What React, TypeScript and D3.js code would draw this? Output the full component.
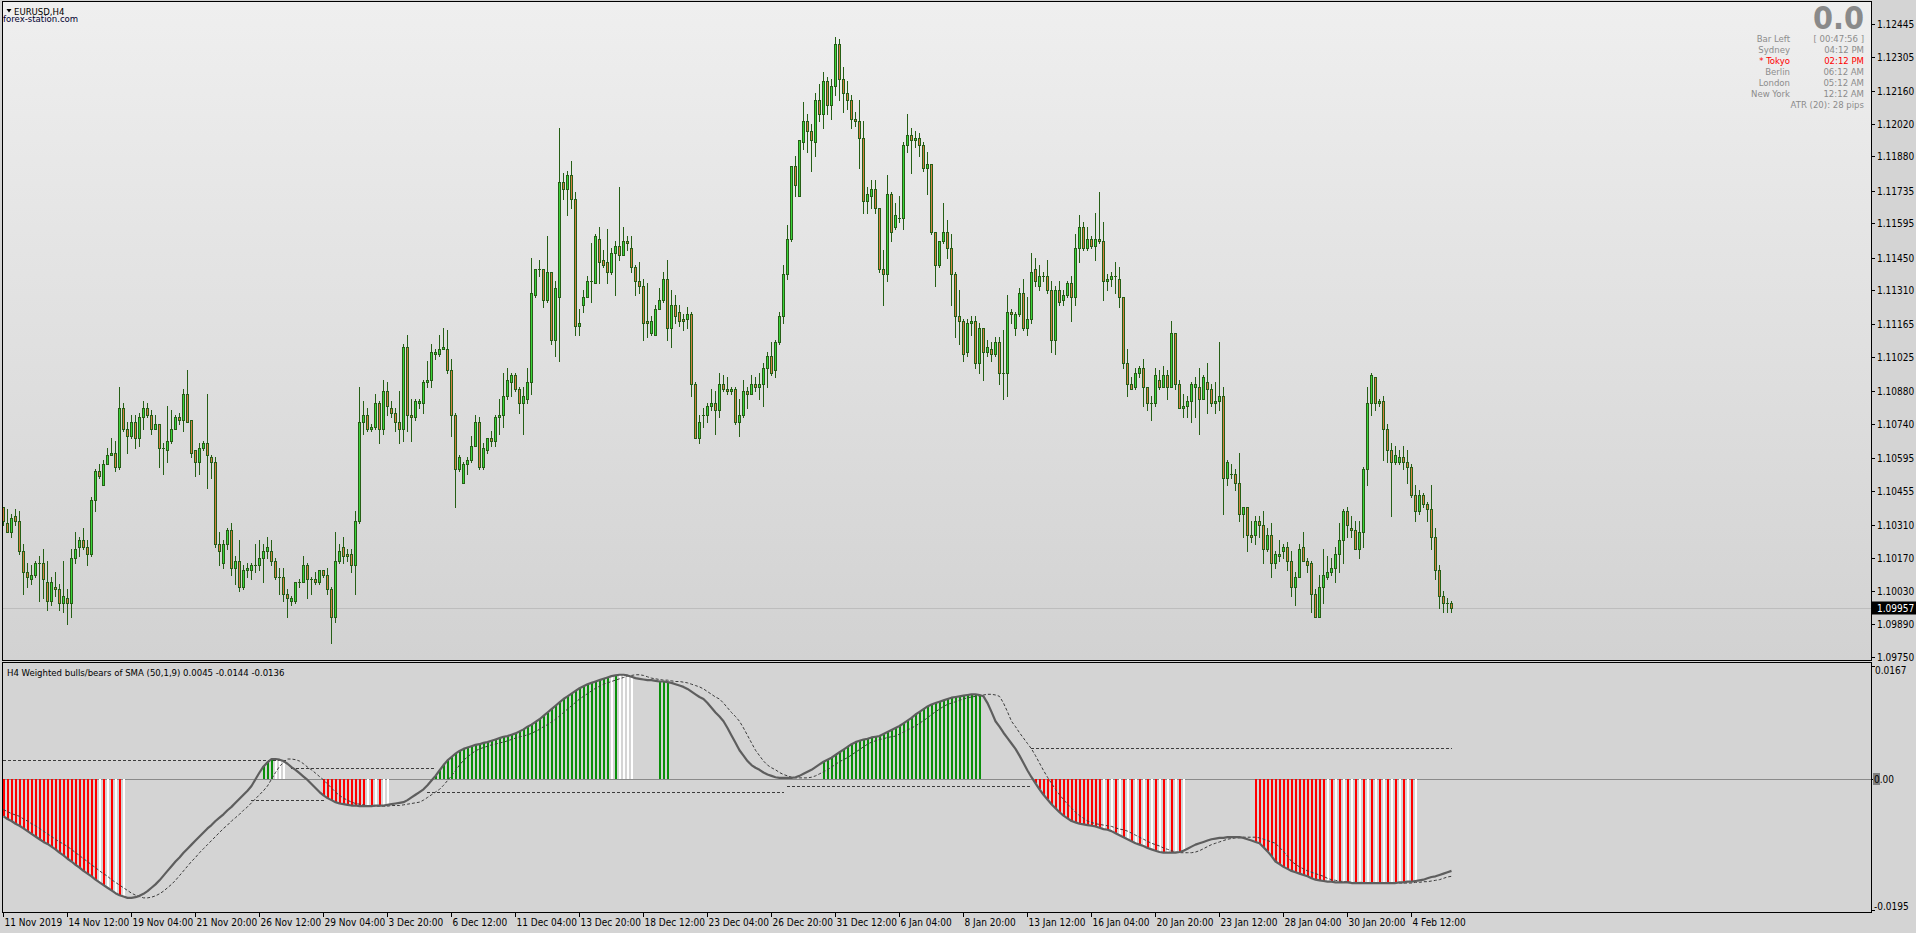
import React from "react";
import * as d3 from "d3";

// ---------- DATA ----------
// EURUSD H4 candles [open, high, low, close], oldest first (11 Nov 2019 20:00 -> 6 Feb 2020 00:00)
const ohlc: [number, number, number, number][] = [
[1.1039,1.1039,1.1031,1.1033],[1.1032,1.1038,1.1028,1.1028],[1.1028,1.1036,1.1026,1.1034],[1.1035,1.1038,1.1031,1.1033],
[1.1033,1.1037,1.1019,1.1020],[1.1020,1.1023,1.1002,1.1011],[1.1011,1.1015,1.1005,1.1009],[1.1008,1.1014,1.1006,1.1010],
[1.1010,1.1016,1.1009,1.1015],[1.1015,1.1018,1.0999,1.1015],[1.1015,1.1021,1.1000,1.1008],[1.1007,1.1016,1.0995,1.0999],
[1.0999,1.1009,1.0997,1.1007],[1.1005,1.1011,1.1001,1.1004],[1.1004,1.1006,1.0995,1.0998],[1.0998,1.1016,1.0994,1.1001],
[1.1000,1.1004,1.0989,1.0998],[1.0998,1.1021,1.0992,1.1017],[1.1017,1.1028,1.1015,1.1021],[1.1022,1.1026,1.1018,1.1025],
[1.1025,1.1030,1.1021,1.1022],[1.1022,1.1025,1.1014,1.1019],[1.1019,1.1043,1.1018,1.1042],[1.1042,1.1055,1.1037,1.1054],
[1.1054,1.1057,1.1051,1.1052],[1.1048,1.1059,1.1048,1.1057],[1.1057,1.1064,1.1057,1.1061],[1.1061,1.1068,1.1061,1.1062],
[1.1062,1.1067,1.1054,1.1056],[1.1056,1.1090,1.1055,1.1081],[1.1081,1.1083,1.1071,1.1072],[1.1072,1.1075,1.1062,1.1069],
[1.1069,1.1078,1.1068,1.1075],[1.1075,1.1078,1.1064,1.1068],[1.1068,1.1079,1.1065,1.1077],[1.1077,1.1084,1.1072,1.1081],
[1.1081,1.1083,1.1077,1.1078],[1.1078,1.1080,1.1070,1.1072],[1.1072,1.1078,1.1072,1.1074],[1.1074,1.1074,1.1056,1.1064],
[1.1064,1.1066,1.1053,1.1064],[1.1063,1.1082,1.1058,1.1067],[1.1067,1.1080,1.1066,1.1072],[1.1072,1.1078,1.1072,1.1077],
[1.1077,1.1079,1.1074,1.1076],[1.1076,1.1089,1.1071,1.1087],[1.1087,1.1097,1.1075,1.1075],[1.1076,1.1076,1.1060,1.1062],
[1.1063,1.1063,1.1052,1.1058],[1.1058,1.1066,1.1053,1.1064],[1.1064,1.1067,1.1063,1.1066],[1.1066,1.1087,1.1047,1.1061],
[1.1060,1.1061,1.1051,1.1058],[1.1058,1.1060,1.1022,1.1023],[1.1023,1.1028,1.1014,1.1020],[1.1015,1.1025,1.1013,1.1023],
[1.1023,1.1030,1.1021,1.1029],[1.1029,1.1032,1.1010,1.1013],[1.1013,1.1018,1.1006,1.1016],[1.1016,1.1025,1.1003,1.1005],
[1.1005,1.1014,1.1004,1.1012],[1.1012,1.1015,1.1009,1.1013],[1.1012,1.1015,1.1008,1.1014],[1.1014,1.1023,1.1011,1.1014],
[1.1014,1.1025,1.1012,1.1017],[1.1017,1.1023,1.1007,1.1020],[1.1020,1.1026,1.1017,1.1022],[1.1020,1.1025,1.1014,1.1016],
[1.1016,1.1017,1.1008,1.1009],[1.1009,1.1013,1.1002,1.1009],[1.1009,1.1013,1.0999,1.1002],[1.1002,1.1004,1.0992,1.1000],
[1.0999,1.1001,1.0997,1.1000],[1.0999,1.1007,1.0998,1.1007],[1.1007,1.1008,1.1005,1.1007],[1.1007,1.1018,1.1007,1.1014],
[1.1014,1.1015,1.1000,1.1008],[1.1008,1.1009,1.1002,1.1008],[1.1008,1.1011,1.1006,1.1007],[1.1007,1.1012,1.1006,1.1012],
[1.1012,1.1012,1.1009,1.1010],[1.1010,1.1013,1.1002,1.1004],[1.1004,1.1005,1.0981,1.0992],[1.0992,1.1028,1.0990,1.1016],
[1.1016,1.1023,1.1015,1.1020],[1.1022,1.1026,1.1015,1.1018],[1.1019,1.1021,1.1016,1.1018],[1.1019,1.1021,1.1011,1.1014],
[1.1014,1.1037,1.1002,1.1033],[1.1033,1.1090,1.1032,1.1075],[1.1075,1.1084,1.1070,1.1078],[1.1078,1.1081,1.1071,1.1072],
[1.1072,1.1074,1.1071,1.1073],[1.1073,1.1087,1.1072,1.1083],[1.1083,1.1084,1.1066,1.1072],[1.1072,1.1093,1.1070,1.1088],
[1.1088,1.1092,1.1078,1.1082],[1.1081,1.1084,1.1077,1.1079],[1.1079,1.1081,1.1071,1.1075],[1.1075,1.1088,1.1066,1.1072],
[1.1072,1.1108,1.1067,1.1107],[1.1107,1.1112,1.1071,1.1078],[1.1078,1.1085,1.1067,1.1077],[1.1077,1.1085,1.1076,1.1084],
[1.1083,1.1085,1.1081,1.1084],[1.1083,1.1093,1.1079,1.1092],[1.1092,1.1101,1.1090,1.1093],[1.1093,1.1108,1.1090,1.1105],
[1.1104,1.1106,1.1102,1.1105],[1.1104,1.1112,1.1103,1.1106],[1.1106,1.1115,1.1106,1.1107],[1.1106,1.1114,1.1096,1.1097],
[1.1097,1.1102,1.1069,1.1078],[1.1078,1.1079,1.1039,1.1055],[1.1055,1.1061,1.1054,1.1060],[1.1049,1.1058,1.1049,1.1057],
[1.1057,1.1060,1.1053,1.1059],[1.1059,1.1069,1.1058,1.1065],[1.1065,1.1078,1.1065,1.1075],[1.1075,1.1077,1.1055,1.1056],
[1.1056,1.1066,1.1055,1.1064],[1.1063,1.1068,1.1062,1.1068],[1.1068,1.1071,1.1065,1.1067],[1.1067,1.1078,1.1065,1.1077],
[1.1077,1.1085,1.1070,1.1078],[1.1078,1.1096,1.1073,1.1086],[1.1086,1.1098,1.1085,1.1093],[1.1092,1.1096,1.1086,1.1095],
[1.1095,1.1096,1.1088,1.1089],[1.1089,1.1090,1.1079,1.1083],[1.1083,1.1090,1.1070,1.1086],[1.1085,1.1098,1.1083,1.1092],
[1.1092,1.1145,1.1087,1.1130],[1.1129,1.1140,1.1128,1.1140],[1.1140,1.1144,1.1137,1.1140],[1.1140,1.1140,1.1124,1.1127],
[1.1127,1.1154,1.1126,1.1139],[1.1139,1.1139,1.1108,1.1110],[1.1110,1.1135,1.1103,1.1132],[1.1128,1.1200,1.1101,1.1177],
[1.1177,1.1181,1.1170,1.1174],[1.1174,1.1182,1.1163,1.1180],[1.1180,1.1186,1.1166,1.1170],[1.1170,1.1173,1.1112,1.1116],
[1.1116,1.1123,1.1112,1.1117],[1.1125,1.1131,1.1122,1.1128],[1.1128,1.1137,1.1128,1.1135],[1.1135,1.1151,1.1126,1.1135],
[1.1134,1.1155,1.1134,1.1154],[1.1153,1.1158,1.1134,1.1143],[1.1144,1.1148,1.1141,1.1142],[1.1143,1.1157,1.1134,1.1139],
[1.1139,1.1149,1.1138,1.1147],[1.1147,1.1152,1.1129,1.1150],[1.1150,1.1175,1.1144,1.1146],[1.1146,1.1158,1.1146,1.1152],
[1.1152,1.1154,1.1148,1.1151],[1.1149,1.1154,1.1139,1.1141],[1.1141,1.1142,1.1129,1.1135],[1.1135,1.1143,1.1130,1.1133],
[1.1133,1.1136,1.1110,1.1117],[1.1118,1.1134,1.1111,1.1117],[1.1113,1.1120,1.1112,1.1118],[1.1112,1.1125,1.1112,1.1123],
[1.1123,1.1132,1.1123,1.1127],[1.1127,1.1139,1.1126,1.1136],[1.1136,1.1144,1.1110,1.1115],[1.1115,1.1131,1.1107,1.1125],
[1.1125,1.1129,1.1117,1.1120],[1.1122,1.1125,1.1116,1.1118],[1.1119,1.1121,1.1114,1.1118],[1.1119,1.1124,1.1115,1.1121],
[1.1121,1.1122,1.1086,1.1091],[1.1091,1.1092,1.1068,1.1068],[1.1068,1.1078,1.1066,1.1075],[1.1078,1.1081,1.1073,1.1078],
[1.1078,1.1083,1.1075,1.1082],[1.1082,1.1089,1.1080,1.1083],[1.1083,1.1088,1.1070,1.1080],[1.1080,1.1096,1.1077,1.1091],
[1.1091,1.1095,1.1088,1.1089],[1.1089,1.1094,1.1087,1.1088],[1.1088,1.1090,1.1087,1.1089],[1.1089,1.1090,1.1074,1.1075],
[1.1075,1.1085,1.1069,1.1078],[1.1078,1.1093,1.1077,1.1088],[1.1088,1.1090,1.1081,1.1087],[1.1087,1.1095,1.1087,1.1091],
[1.1091,1.1094,1.1088,1.1090],[1.1090,1.1096,1.1085,1.1091],[1.1091,1.1100,1.1082,1.1098],[1.1098,1.1105,1.1090,1.1103],
[1.1103,1.1109,1.1095,1.1096],[1.1097,1.1110,1.1094,1.1109],[1.1109,1.1122,1.1108,1.1120],[1.1120,1.1142,1.1117,1.1138],
[1.1138,1.1159,1.1136,1.1153],[1.1153,1.1184,1.1152,1.1184],[1.1184,1.1188,1.1171,1.1176],[1.1171,1.1195,1.1171,1.1195],
[1.1194,1.1211,1.1191,1.1203],[1.1203,1.1206,1.1190,1.1199],[1.1199,1.1202,1.1182,1.1195],[1.1194,1.1215,1.1188,1.1212],
[1.1212,1.1219,1.1203,1.1206],[1.1206,1.1224,1.1200,1.1220],[1.1220,1.1222,1.1206,1.1210],[1.1210,1.1221,1.1204,1.1218],
[1.1218,1.1239,1.1214,1.1236],[1.1236,1.1238,1.1212,1.1221],[1.1221,1.1226,1.1207,1.1215],[1.1215,1.1220,1.1208,1.1212],
[1.1212,1.1214,1.1200,1.1204],[1.1204,1.1207,1.1201,1.1203],[1.1203,1.1212,1.1183,1.1196],[1.1196,1.1203,1.1164,1.1169],
[1.1169,1.1175,1.1164,1.1172],[1.1171,1.1178,1.1166,1.1174],[1.1174,1.1178,1.1164,1.1166],[1.1166,1.1166,1.1139,1.1140],
[1.1140,1.1148,1.1125,1.1138],[1.1138,1.1180,1.1135,1.1172],[1.1172,1.1173,1.1152,1.1156],[1.1158,1.1168,1.1157,1.1163],
[1.1162,1.1171,1.1160,1.1162],[1.1162,1.1194,1.1157,1.1193],[1.1193,1.1206,1.1190,1.1197],[1.1197,1.1200,1.1181,1.1195],
[1.1195,1.1199,1.1192,1.1196],[1.1196,1.1198,1.1188,1.1193],[1.1193,1.1194,1.1182,1.1183],[1.1183,1.1190,1.1172,1.1185],
[1.1185,1.1185,1.1155,1.1156],[1.1156,1.1156,1.1133,1.1142],[1.1142,1.1152,1.1141,1.1152],[1.1152,1.1168,1.1151,1.1156],
[1.1156,1.1161,1.1145,1.1149],[1.1149,1.1155,1.1125,1.1138],[1.1138,1.1139,1.1111,1.1120],[1.1120,1.1131,1.1108,1.1118],
[1.1118,1.1119,1.1101,1.1104],[1.1105,1.1119,1.1103,1.1117],[1.1117,1.1120,1.1112,1.1118],[1.1118,1.1120,1.1098,1.1100],
[1.1100,1.1117,1.1096,1.1115],[1.1115,1.1115,1.1093,1.1105],[1.1105,1.1110,1.1103,1.1107],[1.1106,1.1109,1.1101,1.1104],
[1.1104,1.1111,1.1103,1.1109],[1.1109,1.1111,1.1091,1.1096],[1.1096,1.1114,1.1085,1.1096],[1.1096,1.1129,1.1086,1.1122],
[1.1122,1.1123,1.1117,1.1121],[1.1115,1.1122,1.1112,1.1121],[1.1121,1.1132,1.1120,1.1130],[1.1130,1.1136,1.1114,1.1115],
[1.1115,1.1128,1.1112,1.1119],[1.1119,1.1147,1.1117,1.1139],[1.1140,1.1145,1.1133,1.1135],[1.1133,1.1142,1.1131,1.1137],
[1.1137,1.1139,1.1135,1.1137],[1.1137,1.1144,1.1130,1.1131],[1.1131,1.1135,1.1105,1.1110],[1.1110,1.1133,1.1104,1.1131],
[1.1131,1.1135,1.1125,1.1126],[1.1127,1.1131,1.1125,1.1129],[1.1129,1.1135,1.1128,1.1134],[1.1134,1.1137,1.1118,1.1128],
[1.1128,1.1155,1.1125,1.1149],[1.1149,1.1163,1.1143,1.1158],[1.1158,1.1160,1.1148,1.1149],[1.1149,1.1158,1.1148,1.1153],
[1.1153,1.1154,1.1149,1.1150],[1.1150,1.1164,1.1144,1.1153],[1.1153,1.1173,1.1151,1.1152],[1.1152,1.1160,1.1127,1.1135],
[1.1135,1.1138,1.1131,1.1136],[1.1136,1.1139,1.1133,1.1137],[1.1137,1.1143,1.1130,1.1137],[1.1136,1.1141,1.1124,1.1128],
[1.1128,1.1128,1.1098,1.1100],[1.1100,1.1106,1.1086,1.1091],[1.1091,1.1094,1.1089,1.1089],[1.1090,1.1098,1.1089,1.1096],
[1.1096,1.1099,1.1094,1.1098],[1.1098,1.1102,1.1082,1.1090],[1.1090,1.1090,1.1080,1.1083],[1.1083,1.1086,1.1076,1.1083],
[1.1083,1.1098,1.1082,1.1095],[1.1093,1.1097,1.1089,1.1090],[1.1090,1.1099,1.1090,1.1095],[1.1095,1.1097,1.1085,1.1090],
[1.1090,1.1118,1.1090,1.1113],[1.1113,1.1113,1.1089,1.1091],[1.1091,1.1093,1.1081,1.1081],[1.1081,1.1087,1.1077,1.1082],
[1.1082,1.1086,1.1077,1.1084],[1.1084,1.1092,1.1075,1.1091],[1.1090,1.1094,1.1077,1.1091],[1.1090,1.1098,1.1070,1.1085],
[1.1085,1.1095,1.1085,1.1094],[1.1092,1.1100,1.1079,1.1089],[1.1089,1.1091,1.1082,1.1083],[1.1083,1.1092,1.1079,1.1084],
[1.1084,1.1109,1.1080,1.1086],[1.1086,1.1090,1.1036,1.1051],[1.1051,1.1059,1.1048,1.1058],[1.1053,1.1057,1.1051,1.1053],
[1.1053,1.1055,1.1046,1.1049],[1.1049,1.1062,1.1033,1.1036],[1.1036,1.1039,1.1026,1.1039],[1.1039,1.1039,1.1020,1.1027],
[1.1027,1.1033,1.1024,1.1026],[1.1027,1.1035,1.1023,1.1033],[1.1033,1.1035,1.1026,1.1031],[1.1031,1.1037,1.1015,1.1021],
[1.1021,1.1030,1.1020,1.1027],[1.1027,1.1032,1.1009,1.1015],[1.1015,1.1020,1.1013,1.1019],[1.1018,1.1025,1.1016,1.1019],
[1.1020,1.1023,1.1017,1.1022],[1.1022,1.1024,1.1012,1.1016],[1.1016,1.1020,1.1001,1.1005],[1.1005,1.1011,1.0997,1.1009],
[1.1009,1.1023,1.1009,1.1021],[1.1022,1.1028,1.1016,1.1016],[1.1016,1.1017,1.1011,1.1014],[1.1015,1.1016,1.0994,1.1002],
[1.1002,1.1004,1.0992,1.0992],[1.0992,1.1010,1.0992,1.1005],[1.1005,1.1021,1.0998,1.1010],[1.1009,1.1018,1.1008,1.1011],
[1.1011,1.1017,1.1010,1.1013],[1.1013,1.1022,1.1007,1.1019],[1.1019,1.1032,1.1011,1.1025],[1.1025,1.1038,1.1015,1.1037],
[1.1037,1.1039,1.1026,1.1031],[1.1030,1.1035,1.1026,1.1029],[1.1029,1.1033,1.1021,1.1021],[1.1021,1.1033,1.1017,1.1028],
[1.1028,1.1056,1.1022,1.1055],[1.1055,1.1090,1.1048,1.1083],[1.1083,1.1096,1.1078,1.1095],[1.1094,1.1094,1.1080,1.1083],
[1.1083,1.1085,1.1082,1.1084],[1.1084,1.1086,1.1059,1.1072],[1.1072,1.1074,1.1058,1.1063],[1.1063,1.1066,1.1035,1.1058],
[1.1058,1.1065,1.1057,1.1061],[1.1058,1.1063,1.1057,1.1060],[1.1060,1.1065,1.1055,1.1058],[1.1058,1.1063,1.1049,1.1056],
[1.1056,1.1057,1.1043,1.1044],[1.1044,1.1048,1.1033,1.1037],[1.1037,1.1046,1.1036,1.1044],[1.1044,1.1045,1.1039,1.1040],
[1.1040,1.1041,1.1033,1.1038],[1.1038,1.1048,1.1021,1.1026],[1.1026,1.1030,1.1008,1.1012],[1.1012,1.1014,1.0996,1.1001],
[1.1001,1.1003,1.0994,1.0998],[1.0998,1.1000,1.0994,1.0998],[1.0998,1.0999,1.0994,1.09957],
];

// Indicator: weighted bulls/bears line (thick), signal (dashed)
const bullsBears = [
-0.0056,-0.0060,-0.0063,-0.0067,-0.0070,-0.0074,-0.0078,-0.0082,-0.0086,-0.0090,-0.0094,-0.0097,
-0.0101,-0.0105,-0.0110,-0.0114,-0.0119,-0.0123,-0.0128,-0.0132,-0.0137,-0.0141,-0.0145,-0.0150,
-0.0154,-0.0158,-0.0162,-0.0166,-0.0170,-0.0173,-0.0175,-0.0177,-0.0177,-0.0176,-0.0174,-0.0171,-0.0167,-0.0162,-0.0157,
-0.0151,-0.0144,-0.0137,-0.0130,-0.0123,-0.0117,-0.0110,-0.0104,-0.0098,-0.0092,-0.0086,-0.0080,
-0.0074,-0.0069,-0.0063,-0.0058,-0.0053,-0.0047,-0.0042,-0.0036,-0.0030,-0.0024,-0.0018,
-0.0011,-0.0001,0.0009,0.0018,0.0024,0.0029,0.0029,0.0028,0.0026,0.0022,0.0017,
0.0013,0.0008,0.0003,-0.0002,-0.0008,-0.0014,-0.0020,-0.0025,-0.0029,-0.0032,
-0.0035,-0.0037,-0.0038,-0.0039,-0.0040,-0.0040,-0.0041,-0.0041,-0.0041,-0.0041,-0.0040,
-0.0040,-0.0040,-0.0039,-0.0038,-0.0037,-0.0036,-0.0035,-0.0032,-0.0028,-0.0024,-0.0020,-0.0016,-0.0010,-0.0003,
0.0004,0.0012,0.0020,0.0027,0.0032,0.0037,0.0041,0.0044,0.0046,0.0048,0.0050,0.0051,0.0053,
0.0054,0.0056,0.0058,0.0060,0.0062,0.0063,0.0065,0.0067,0.0070,0.0073,0.0077,0.0080,0.0084,
0.0088,0.0093,0.0098,0.0103,0.0108,0.0113,0.0118,0.0122,0.0126,0.0130,0.0134,0.0137,
0.0140,0.0142,0.0144,0.0146,0.0148,0.0150,0.0152,0.0153,0.0154,0.0154,0.0153,0.0151,
0.0149,0.0148,0.0147,0.0146,0.0146,0.0145,0.0144,0.0144,0.0143,0.0142,0.0140,0.0138,
0.0136,0.0133,0.0129,0.0125,0.0121,0.0118,0.0112,0.0105,0.0098,0.0092,0.0085,0.0075,0.0064,0.0053,
0.0042,0.0034,0.0026,0.0020,0.0016,0.0013,0.0009,0.0006,0.0004,0.0002,0.0001,0.0001,0.0001,0.0001,
0.0002,0.0004,0.0007,0.0010,0.0013,0.0017,0.0021,0.0025,0.0028,0.0031,0.0035,0.0039,0.0043,0.0047,0.0051,
0.0054,0.0056,0.0058,0.0059,0.0061,0.0062,0.0063,0.0066,0.0069,0.0072,0.0075,0.0078,
0.0082,0.0086,0.0090,0.0095,0.0099,0.0103,0.0107,0.0110,0.0112,0.0114,0.0116,0.0118,0.0120,
0.0121,0.0122,0.0123,0.0124,0.0125,0.0125,0.0124,0.0122,0.0112,0.0099,
0.0085,0.0077,0.0068,0.0060,0.0052,0.0044,0.0034,0.0023,0.0012,
0.0002,-0.0007,-0.0016,-0.0024,-0.0031,-0.0038,-0.0044,-0.0050,-0.0055,-0.0059,
-0.0063,-0.0065,-0.0067,-0.0068,-0.0069,-0.0070,-0.0071,-0.0073,-0.0075,-0.0076,
-0.0078,-0.0081,-0.0084,-0.0087,-0.0090,-0.0093,-0.0096,-0.0098,-0.0100,-0.0103,-0.0105,-0.0107,
-0.0109,-0.0110,-0.0110,-0.0110,-0.0110,-0.0109,-0.0107,-0.0104,-0.0101,-0.0098,
-0.0096,-0.0094,-0.0092,-0.0090,-0.0089,-0.0088,-0.0088,-0.0087,-0.0087,-0.0087,
-0.0087,-0.0088,-0.0090,-0.0092,-0.0094,-0.0096,-0.0102,-0.0108,-0.0115,
-0.0123,-0.0127,-0.0131,-0.0134,-0.0137,-0.0139,-0.0141,-0.0143,-0.0145,-0.0148,-0.0150,
-0.0151,-0.0152,-0.0153,-0.0153,-0.0154,-0.0154,-0.0154,-0.0154,-0.0155,-0.0155,-0.0155,-0.0155,
-0.0155,-0.0155,-0.0155,-0.0155,-0.0155,-0.0155,-0.0155,-0.0155,-0.0154,-0.0154,-0.0153,-0.0153,
-0.0152,-0.0151,-0.0150,-0.0148,-0.0146,-0.0145,-0.0143,-0.0141,-0.0139,-0.0137,
];

const signal = [
-0.0046,-0.0049,-0.0052,-0.0054,
-0.0056,-0.0060,-0.0063,-0.0067,-0.0070,-0.0074,-0.0078,-0.0082,-0.0086,-0.0090,-0.0094,-0.0097,
-0.0101,-0.0105,-0.0110,-0.0114,-0.0119,-0.0123,-0.0128,-0.0132,-0.0137,-0.0141,-0.0145,-0.0150,
-0.0154,-0.0158,-0.0162,-0.0166,-0.0170,-0.0173,-0.0175,-0.0177,-0.0177,-0.0176,-0.0174,-0.0171,-0.0167,-0.0162,-0.0157,
-0.0151,-0.0144,-0.0137,-0.0130,-0.0123,-0.0117,-0.0110,-0.0104,-0.0098,-0.0092,-0.0086,-0.0080,
-0.0074,-0.0069,-0.0063,-0.0058,-0.0053,-0.0047,-0.0042,-0.0036,-0.0030,-0.0024,-0.0018,
-0.0011,-0.0001,0.0009,0.0018,0.0024,0.0029,0.0029,0.0028,0.0026,0.0022,0.0017,
0.0013,0.0008,0.0003,-0.0002,-0.0008,-0.0014,-0.0020,-0.0025,-0.0029,-0.0032,
-0.0035,-0.0037,-0.0038,-0.0039,-0.0040,-0.0040,-0.0041,-0.0041,-0.0041,-0.0041,-0.0040,
-0.0040,-0.0040,-0.0039,-0.0038,-0.0037,-0.0036,-0.0035,-0.0032,-0.0028,-0.0024,-0.0020,-0.0016,-0.0010,-0.0003,
0.0004,0.0012,0.0020,0.0027,0.0032,0.0037,0.0041,0.0044,0.0046,0.0048,0.0050,0.0051,0.0053,
0.0054,0.0056,0.0058,0.0060,0.0062,0.0063,0.0065,0.0067,0.0070,0.0073,0.0077,0.0080,0.0084,
0.0088,0.0093,0.0098,0.0103,0.0108,0.0113,0.0118,0.0122,0.0126,0.0130,0.0134,0.0137,
0.0140,0.0142,0.0144,0.0146,0.0148,0.0150,0.0152,0.0153,0.0154,0.0154,0.0153,0.0151,
0.0149,0.0148,0.0147,0.0146,0.0146,0.0145,0.0144,0.0144,0.0143,0.0142,0.0140,0.0138,
0.0136,0.0133,0.0129,0.0125,0.0121,0.0118,0.0112,0.0105,0.0098,0.0092,0.0085,0.0075,0.0064,0.0053,
0.0042,0.0034,0.0026,0.0020,0.0016,0.0013,0.0009,0.0006,0.0004,0.0002,0.0001,0.0001,0.0001,0.0001,
0.0002,0.0004,0.0007,0.0010,0.0013,0.0017,0.0021,0.0025,0.0028,0.0031,0.0035,0.0039,0.0043,0.0047,0.0051,
0.0054,0.0056,0.0058,0.0059,0.0061,0.0062,0.0063,0.0066,0.0069,0.0072,0.0075,0.0078,
0.0082,0.0086,0.0090,0.0095,0.0099,0.0103,0.0107,0.0110,0.0112,0.0114,0.0116,0.0118,0.0120,
0.0121,0.0122,0.0123,0.0124,0.0125,0.0125,0.0124,0.0122,0.0112,0.0099,
0.0085,0.0077,0.0068,0.0060,0.0052,0.0044,0.0034,0.0023,0.0012,
0.0002,-0.0007,-0.0016,-0.0024,-0.0031,-0.0038,-0.0044,-0.0050,-0.0055,-0.0059,
-0.0063,-0.0065,-0.0067,-0.0068,-0.0069,-0.0070,-0.0071,-0.0073,-0.0075,-0.0076,
-0.0078,-0.0081,-0.0084,-0.0087,-0.0090,-0.0093,-0.0096,-0.0098,-0.0100,-0.0103,-0.0105,-0.0107,
-0.0109,-0.0110,-0.0110,-0.0110,-0.0110,-0.0109,-0.0107,-0.0104,-0.0101,-0.0098,
-0.0096,-0.0094,-0.0092,-0.0090,-0.0089,-0.0088,-0.0088,-0.0087,-0.0087,-0.0087,
-0.0087,-0.0088,-0.0090,-0.0092,-0.0094,-0.0096,-0.0102,-0.0108,-0.0115,
-0.0123,-0.0127,-0.0131,-0.0134,-0.0137,-0.0139,-0.0141,-0.0143,-0.0145,-0.0148,-0.0150,
-0.0151,-0.0152,-0.0153,-0.0153,-0.0154,-0.0154,-0.0154,-0.0154,-0.0155,-0.0155,-0.0155,-0.0155,
-0.0155,-0.0155,-0.0155,-0.0155,-0.0155,-0.0155,-0.0155,-0.0155,-0.0154,-0.0154,-0.0153,-0.0153,
-0.0152,-0.0151,-0.0150,-0.0148,-0.0146,-0.0145,
];

// step levels (dashed): [firstBar, lastBar, value]
const upperLevel: [number, number, number][] = [[0, 71, 0.0027], [72, 108, 0.0015], [257, 362, 0.0045]];
const lowerLevel: [number, number, number][] = [[62, 80, -0.0032], [106, 195, -0.0020], [196, 257, -0.0011]];

// histogram colour runs: r = red, g = green, w = white, - = none ; [code, count]
const histRuns: [string, number][] = [
["r",24],["w",1],["r",1],["w",1],["r",1],["w",1],["r",1],["w",1],["-",34],["g",3],["w",3],["-",9],
["r",11],["w",1],["r",1],["w",1],["r",1],["w",2],["-",11],["g",44],["w",1],["g",1],["w",4],["-",6],
["g",3],["-",38],["g",40],["-",13],["r",17],
["w",1],["r",1],["w",1],["r",1],["w",1],["r",1],["w",1],["r",1],["w",1],["r",1],["w",1],["r",1],["w",1],["r",1],["w",1],["r",1],["w",1],["r",1],["w",1],["r",1],["w",1],
["-",17],["r",18],
["w",1],["r",1],["w",1],["r",1],["w",1],["r",1],["w",1],["r",1],["w",1],["r",1],["w",1],["r",1],["w",1],["r",1],["w",1],["r",1],["w",1],["r",1],["w",1],["r",1],["w",1],["r",1],["w",1],
["-",9],
];

const priceTicks = ["1.12445","1.12305","1.12160","1.12020","1.11880","1.11735","1.11595","1.11450","1.11310","1.11165",
"1.11025","1.10880","1.10740","1.10595","1.10455","1.10310","1.10170","1.10030","1.09890","1.09750"];
const bid = 1.09957;

const timeLabels = ["11 Nov 2019","14 Nov 12:00","19 Nov 04:00","21 Nov 20:00","26 Nov 12:00","29 Nov 04:00","3 Dec 20:00",
"6 Dec 12:00","11 Dec 04:00","13 Dec 20:00","18 Dec 12:00","23 Dec 04:00","26 Dec 20:00","31 Dec 12:00","6 Jan 04:00",
"8 Jan 20:00","13 Jan 12:00","16 Jan 04:00","20 Jan 20:00","23 Jan 12:00","28 Jan 04:00","30 Jan 20:00","4 Feb 12:00"];
const barsPerTimeLabel = 16;

const indMax = 0.0167, indMin = -0.0195;
const indTitle = "H4 Weighted bulls/bears of SMA (50,1,9) 0.0045 -0.0144 -0.0136";

const infoLabels = ["Bar Left", "Sydney", "* Tokyo", "Berlin", "London", "New York"];
const infoValues = ["[ 00:47:56 ]", "04:12 PM", "02:12 PM", "06:12 AM", "05:12 AM", "12:12 AM"];
const infoHighlight = [false, false, true, false, false, false];
const atrText = "ATR (20): 28 pips";
const spreadText = "0.0";

// ---------- LAYOUT ----------
const W = 1916, H = 933;
const L = 2, R = 1871;
const mainTop = 1, mainBot = 660;
const indTop = 662, indBot = 912;
const FONT = "'DejaVu Sans Condensed', 'Liberation Sans', sans-serif";

const BULL = "#3ad43a", BEAR = "#d47f3e", EDGE = "#265f16";

export default function App() {
  const n = ohlc.length;
  const x = d3.scaleLinear().domain([0, 362]).range([3, 1451]);
  const yP = d3.scaleLinear().domain([1.0975, 1.12445]).range([657, 23.7]);
  const yI = d3.scaleLinear().domain([indMin, indMax]).range([910, 666]);

  const hist: string[] = [];
  histRuns.forEach(([c, k]) => { for (let j = 0; j < k; j++) hist.push(c); });

  const lineGen = d3.line<number>().x((_, i) => x(i) + 0.5).y((d) => yI(d));
  const mainPath = lineGen(bullsBears.slice(0, n)) || "";
  const sigPath = lineGen(signal.slice(0, n)) || "";

  const y0 = Math.round(yI(0)) + 0.5;
  const bidY = Math.round(yP(bid)) + 0.5;

  const candles = ohlc.map(([o, h, l, c], i) => {
    const cx = Math.round(x(i)) + 0.5;
    const top = Math.round(yP(Math.max(o, c))) + 0.5;
    const bot = Math.round(yP(Math.min(o, c))) + 0.5;
    const hy = Math.round(yP(h));
    const ly = Math.round(yP(l)) + 1;
    const bull = c >= o;
    return (
      <g key={i}>
        <line x1={cx} x2={cx} y1={hy} y2={ly} stroke={EDGE} strokeWidth={1} />
        {bot - top >= 1 ? (
          <rect x={cx - 1} y={top} width={2} height={bot - top} fill={bull ? BULL : BEAR} stroke={EDGE} strokeWidth={1} />
        ) : (
          <line x1={cx - 1.5} x2={cx + 1.5} y1={top} y2={top} stroke={EDGE} strokeWidth={1} />
        )}
      </g>
    );
  });

  const bars = hist.slice(0, n).map((c, i) => {
    if (c === "-") return null;
    const v = bullsBears[i];
    const yv = yI(v);
    const yTop = Math.min(yv, yI(0));
    const hgt = Math.abs(yv - yI(0));
    const fill = c === "r" ? "#ff0000" : c === "g" ? "#0a8f0a" : "#ffffff";
    return <rect key={i} x={Math.round(x(i))} y={yTop} width={2} height={hgt} fill={fill} />;
  });

  const levelLines = [...upperLevel, ...lowerLevel].map(([a, b, v], k) => (
    <line key={k} x1={x(a)} x2={x(b) + 1} y1={Math.round(yI(v)) + 0.5} y2={Math.round(yI(v)) + 0.5}
      stroke="#3c3c3c" strokeWidth={1} strokeDasharray="3,2" />
  ));

  return (
    <div style={{ position: "absolute", left: 0, top: 0, width: W, height: H, overflow: "hidden" }}>
      <svg width={W} height={H} style={{ display: "block", fontFamily: FONT }}>
        <defs>
          <linearGradient id="bg" x1="0" y1="0" x2="0" y2="1">
            <stop offset="0" stopColor="#efefef" />
            <stop offset="1" stopColor="#d2d2d2" />
          </linearGradient>
          <clipPath id="mainClip"><rect x={L + 1} y={mainTop + 1} width={R - L - 1} height={mainBot - mainTop - 1} /></clipPath>
          <clipPath id="indClip"><rect x={L + 1} y={indTop + 1} width={R - L - 1} height={indBot - indTop - 1} /></clipPath>
        </defs>
        <rect x={0} y={0} width={W} height={H} fill="#d4d4d4" />
        <rect x={L} y={mainTop} width={R - L} height={mainBot - mainTop} fill="url(#bg)" />
        <rect x={L} y={indTop} width={R - L} height={indBot - indTop} fill="#d4d4d4" />

        {/* main chart */}
        <g clipPath="url(#mainClip)" shapeRendering="crispEdges">
          <line x1={L} x2={R} y1={bidY} y2={bidY} stroke="#bdbdbd" strokeWidth={1} />
          {candles}
        </g>

        {/* indicator */}
        <g clipPath="url(#indClip)">
          <line x1={L} x2={R} y1={y0} y2={y0} stroke="#8a8a8a" strokeWidth={1} shapeRendering="crispEdges" />
          <g shapeRendering="crispEdges">{bars}</g>
          <g shapeRendering="crispEdges">{levelLines}</g>
          <path d={sigPath} fill="none" stroke="#3c3c3c" strokeWidth={1} strokeDasharray="3,2" />
          <path d={mainPath} fill="none" stroke="#5e5e5e" strokeWidth={2.2} strokeLinejoin="round" />
        </g>

        {/* frames */}
        <g shapeRendering="crispEdges" fill="none" stroke="#000" strokeWidth={1}>
          <rect x={L + 0.5} y={mainTop + 0.5} width={R - L} height={mainBot - mainTop} />
          <rect x={L + 0.5} y={indTop + 0.5} width={R - L} height={indBot - indTop} />
        </g>

        {/* title */}
        <path d="M6.5 9 L11.5 9 L9 12.5 Z" fill="#000" />
        <text x={14} y={11} fontSize={9.5} dominantBaseline="central" fill="#000">EURUSD,H4</text>
        <text x={3} y={18.5} fontSize={9.5} dominantBaseline="central" fill="#000030">forex-station.com</text>

        {/* info panel */}
        <text x={1864} y={29} fontSize={32} fontWeight="bold" textAnchor="end" fill="#8a8a8a">{spreadText}</text>
        {infoLabels.map((t, k) => (
          <g key={k} fontSize={9.5} dominantBaseline="central" fill={infoHighlight[k] ? "#ff0000" : "#8c8c8c"}>
            <text x={1790} y={38.7 + k * 10.9} textAnchor="end">{t}</text>
            <text x={1864} y={38.7 + k * 10.9} textAnchor="end">{infoValues[k]}</text>
          </g>
        ))}
        <text x={1864} y={104.5} fontSize={9.5} textAnchor="end" dominantBaseline="central" fill="#8c8c8c">{atrText}</text>

        {/* price axis */}
        <g fontSize={10} fill="#000">
          {priceTicks.map((t) => {
            const yy = Math.round(yP(+t)) + 0.5;
            return (
              <g key={t}>
                <line x1={R} x2={R + 4} y1={yy} y2={yy} stroke="#000" shapeRendering="crispEdges" />
                <text x={R + 6} y={yy} dominantBaseline="central">{t}</text>
              </g>
            );
          })}
          <rect x={R + 1} y={bidY - 7} width={44} height={13} fill="#000" />
          <text x={R + 6} y={bidY} dominantBaseline="central" fill="#fff">{bid.toFixed(5)}</text>
        </g>

        {/* indicator axis */}
        <g fontSize={10} fill="#000">
          <line x1={R} x2={R + 4} y1={yI(indMax)} y2={yI(indMax)} stroke="#000" shapeRendering="crispEdges" />
          <text x={R + 4} y={yI(indMax) + 4} dominantBaseline="central">{indMax.toFixed(4)}</text>
          <line x1={R} x2={R + 4} y1={y0} y2={y0} stroke="#000" shapeRendering="crispEdges" />
          <rect x={R + 2} y={y0 - 6.5} width={7} height={12} fill="#808080" />
          <text x={R + 3} y={y0} dominantBaseline="central">0.00</text>
          <line x1={R} x2={R + 4} y1={yI(indMin)} y2={yI(indMin)} stroke="#000" shapeRendering="crispEdges" />
          <text x={R + 3} y={yI(indMin) - 4} dominantBaseline="central">{indMin.toFixed(4)}</text>
        </g>
        <text x={7} y={672} fontSize={9.5} dominantBaseline="central" fill="#000">{indTitle}</text>

        {/* time axis */}
        <g fontSize={10} fill="#000">
          {timeLabels.map((t, k) => {
            const xx = Math.round(x(k * barsPerTimeLabel)) + 0.5;
            return (
              <g key={t}>
                <line x1={xx} x2={xx} y1={indBot} y2={indBot + 5} stroke="#000" shapeRendering="crispEdges" />
                <text x={xx + 1} y={922} dominantBaseline="central">{t}</text>
              </g>
            );
          })}
        </g>
      </svg>
    </div>
  );
}
